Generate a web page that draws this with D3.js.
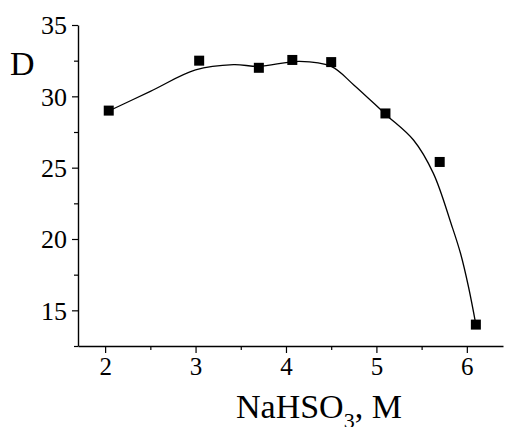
<!DOCTYPE html>
<html>
<head>
<meta charset="utf-8">
<script src="https://cdn.jsdelivr.net/npm/d3@7"></script>
<style>
  body { margin: 0; background: #fff; }
  svg text { font-family: "Liberation Serif", serif; fill: #000; }
</style>
</head>
<body>
<svg id="chart" width="506" height="427"></svg>
<script>
// measured points: NaHSO3 concentration (M) vs D
var conc = [2.04, 3.04, 3.70, 4.07, 4.50, 5.10, 5.70, 6.10]
var dVals = [29.0, 32.5, 32.0, 32.55, 32.4, 28.8, 25.4, 14.0]

// smoothed fit line
var fitX = [2.04, 2.5, 3.0, 3.42, 3.70, 4.15, 4.5, 4.75, 5.1, 5.41, 5.63, 5.83, 5.93, 6.02, 6.1]
var fitY = [28.97, 30.35, 31.85, 32.22, 32.1, 32.45, 32.1, 30.8, 28.75, 26.94, 24.6, 21.0, 19.0, 16.6, 14.0]

var xMajor = [2, 3, 4, 5, 6]
var xMinor = [2.5, 3.5, 4.5, 5.5]
var yMajor = [15, 20, 25, 30, 35]
var yMinor = [12.5, 17.5, 22.5, 27.5, 32.5]

var svg = d3.select('#chart')

var x = d3.scaleLinear().domain([1.7, 6.4]).range([78, 503])
var y = d3.scaleLinear().domain([12.5, 35]).range([346, 25])

// minor ticks first, majors on top
svg.append('g')
    .attr('transform', 'translate(0,346)')
    .call(d3.axisBottom(x).tickValues(xMinor).tickSize(4).tickFormat(''))
    .call(g => g.select('.domain').remove())

svg.append('g')
    .attr('transform', 'translate(78,0)')
    .call(d3.axisLeft(y).tickValues(yMinor).tickSize(4).tickFormat(''))
    .call(g => g.select('.domain').remove())

var xAxis = svg.append('g')
    .attr('transform', 'translate(0,346)')
    .call(d3.axisBottom(x).tickValues(xMajor).tickFormat(d3.format('d'))
      .tickSize(7).tickSizeOuter(0).tickPadding(4))

var yAxis = svg.append('g')
    .attr('transform', 'translate(78,0)')
    .call(d3.axisLeft(y).tickValues(yMajor).tickFormat(d3.format('d'))
      .tickSize(6).tickSizeOuter(0).tickPadding(5))

svg.selectAll('g').attr('font-family', 'Liberation Serif')
svg.selectAll('.domain').attr('stroke-width', 1.4)
svg.selectAll('.tick line').attr('stroke-width', 1.2)

xAxis.selectAll('.tick text')
    .style('font-size', '25px')

yAxis.selectAll('.tick text')
    .style('font-size', '26px')
    .attr('dy', '0.34em')

// fit curve
var line = d3.line()
    .x(d => x(d[0]))
    .y(d => y(d[1]))
    .curve(d3.curveCatmullRom.alpha(0.5))

svg.append('path')
    .datum(d3.zip(fitX, fitY))
    .attr('d', line)
    .attr('fill', 'none')
    .attr('stroke', '#000')
    .attr('stroke-width', 1.3)

// square markers
var ms = 10
svg.append('g')
    .selectAll('rect')
    .data(d3.zip(conc, dVals))
    .join('rect')
    .attr('x', d => x(d[0]) - ms / 2)
    .attr('y', d => y(d[1]) - ms / 2)
    .attr('width', ms)
    .attr('height', ms)
    .attr('fill', '#000')

// axis titles
svg.append('text')
    .attr('x', 10)
    .attr('y', 75)
    .style('font-size', '34px')
    .text('D')

var xt = svg.append('text')
    .attr('x', 236)
    .attr('y', 418)
    .style('font-size', '34px')
xt.append('tspan').text('NaHSO')
xt.append('tspan').attr('dy', 10).style('font-size', '22px').text('3')
xt.append('tspan').attr('dy', -10).text(', M')
</script>
</body>
</html>
